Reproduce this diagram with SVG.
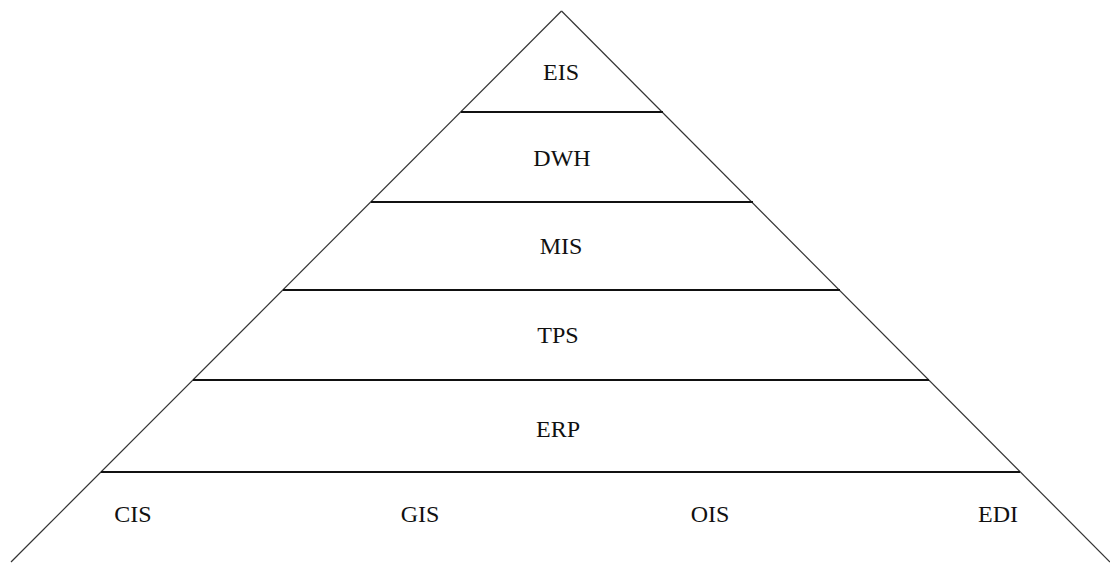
<svg xmlns="http://www.w3.org/2000/svg" width="1110" height="563" viewBox="0 0 1110 563">
<style>
.edge{stroke:#333;stroke-width:1.2;fill:none}
.tier{stroke:#111;stroke-width:1.8}
.lbl{font-family:"Liberation Serif","Times New Roman",serif;font-size:24px;fill:#111;text-anchor:middle}
</style>
<rect width="1110" height="563" fill="#fff"/>
<g id="connectors">
<line class="edge" x1="561.5" y1="11" x2="11" y2="562"/>
<line class="edge" x1="561.5" y1="11" x2="1110" y2="562"/>
</g>
<g id="eis"><text class="lbl" x="561" y="80">EIS</text></g>
<g id="dwh"><line class="tier" x1="461" y1="112" x2="663" y2="112"/><text class="lbl" x="562" y="166">DWH</text></g>
<g id="mis"><line class="tier" x1="371" y1="202" x2="753" y2="202"/><text class="lbl" x="561" y="254">MIS</text></g>
<g id="tps"><line class="tier" x1="283" y1="290" x2="840" y2="290"/><text class="lbl" x="558" y="343">TPS</text></g>
<g id="erp"><line class="tier" x1="193" y1="380" x2="929" y2="380"/><text class="lbl" x="558" y="437">ERP</text></g>
<g id="base"><line class="tier" x1="101" y1="472" x2="1020" y2="472"/></g>
<g id="cis"><text class="lbl" x="133" y="522">CIS</text></g>
<g id="gis"><text class="lbl" x="420" y="522">GIS</text></g>
<g id="ois"><text class="lbl" x="710" y="522">OIS</text></g>
<g id="edi"><text class="lbl" x="998" y="522">EDI</text></g>
</svg>
